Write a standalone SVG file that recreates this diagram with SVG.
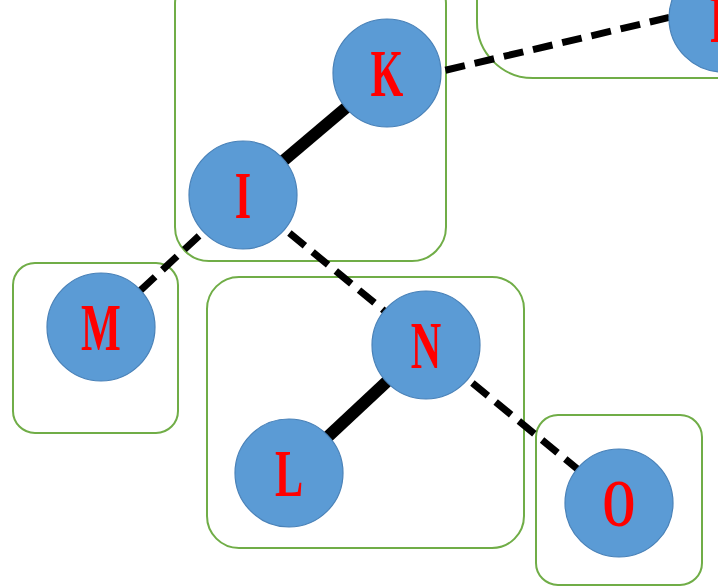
<svg xmlns="http://www.w3.org/2000/svg" width="718" height="587" viewBox="0 0 718 587">
<style>
.box{fill:none;stroke:#70ad47;stroke-width:2}
.n{fill:#5b9bd5;stroke:#4a82b8;stroke-width:1.2}
.lbl{font-family:"Liberation Serif",serif;font-weight:bold;font-size:68px;fill:#ff0000;text-anchor:middle}
.solid{stroke:#000;stroke-width:12;fill:none}
.dash{stroke:#000;stroke-width:7;fill:none;stroke-dasharray:20 10}
</style>
<rect width="718" height="587" fill="#fff"/>
<g id="clusters">
<rect class="box" x="175" y="-30" width="271" height="291" rx="34"/>
<rect class="box" x="477" y="-100" width="300" height="178" rx="56"/>
<rect class="box" x="13" y="263" width="165" height="170" rx="22"/>
<rect class="box" x="207" y="277" width="317" height="271" rx="32"/>
<rect class="box" x="536" y="415" width="166" height="170" rx="22"/>
</g>
<g id="connectors">
<line class="solid" x1="243" y1="195" x2="387" y2="73"/>
<line class="solid" x1="426" y1="345" x2="289" y2="473"/>
<line class="dash" x1="387" y1="84" x2="722" y2="5"/>
<line class="dash" x1="243" y1="195" x2="101" y2="327"/>
<line class="dash" x1="243" y1="195" x2="426" y2="345"/>
<line class="dash" x1="426" y1="345" x2="619" y2="503"/>
</g>
<g id="node-P"><circle class="n" cx="723" cy="18" r="54"/><text class="lbl" transform="translate(723,42) scale(0.62,1)">P</text></g>
<g id="node-K"><circle class="n" cx="387" cy="73" r="54"/><text class="lbl" transform="translate(387,96) scale(0.62,1)">K</text></g>
<g id="node-I"><circle class="n" cx="243" cy="195" r="54"/><text class="lbl" transform="translate(243,218) scale(0.62,1)">I</text></g>
<g id="node-M"><circle class="n" cx="101" cy="327" r="54"/><text class="lbl" transform="translate(101,350) scale(0.62,1)">M</text></g>
<g id="node-N"><circle class="n" cx="426" cy="345" r="54"/><text class="lbl" transform="translate(426,368) scale(0.62,1)">N</text></g>
<g id="node-L"><circle class="n" cx="289" cy="473" r="54"/><text class="lbl" transform="translate(289,496) scale(0.62,1)">L</text></g>
<g id="node-O"><circle class="n" cx="619" cy="503" r="54"/><text class="lbl" transform="translate(619,526) scale(0.62,1)">O</text></g>
</svg>
